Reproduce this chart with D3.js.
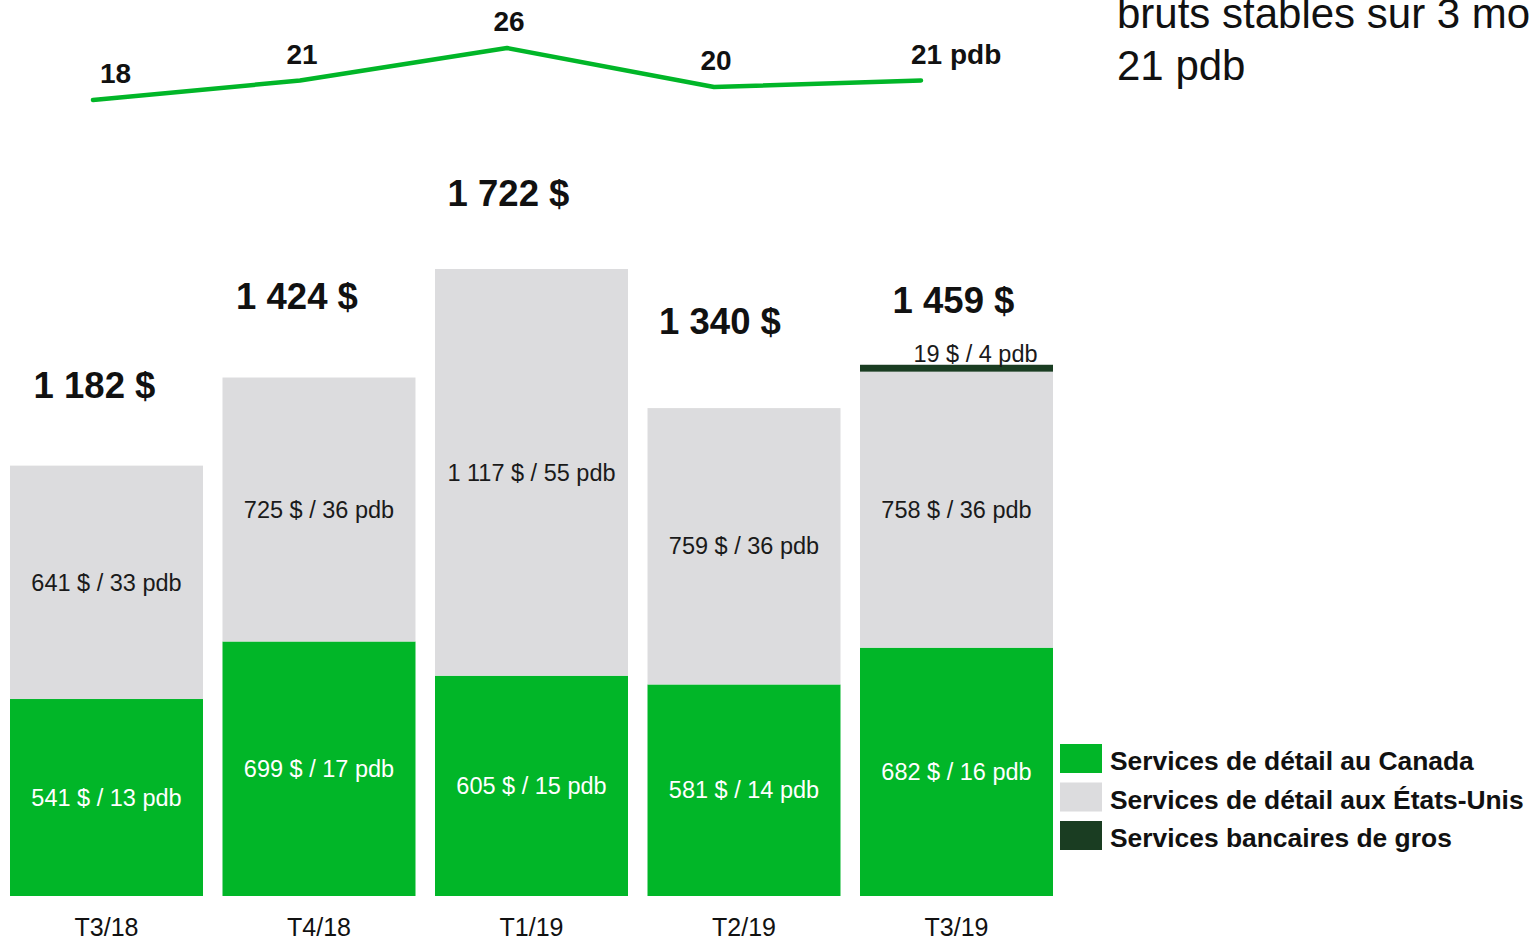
<!DOCTYPE html>
<html>
<head>
<meta charset="utf-8">
<script src="https://cdn.jsdelivr.net/npm/d3@7"></script>
<style>
  html, body { margin: 0; padding: 0; background: #ffffff; overflow: hidden; }
  svg { display: block; font-family: "Liberation Sans", Arial, sans-serif; }
</style>
</head>
<body>
<svg id="chart" width="1531" height="940"></svg>
<script>
// Quarters and segment values (M$) with their margin contribution (pdb)
const quarters = ["T3/18", "T4/18", "T1/19", "T2/19", "T3/19"];
const canada = [541, 699, 605, 581, 682];
const canadaPdb = [13, 17, 15, 14, 16];
const usa = [641, 725, 1117, 759, 758];
const usaPdb = [33, 36, 55, 36, 36];
const wholesale = [0, 0, 0, 0, 19];
const wholesalePdb = [0, 0, 0, 0, 4];
// Total margin line (pdb)
const totalPdb = [18, 21, 26, 20, 21];

const seriesNames = [
  "Services de détail au Canada",
  "Services de détail aux États-Unis",
  "Services bancaires de gros"
];
const seriesColors = ["#01b628", "#dcdcde", "#1a3d22"];

// Hand placement of the total labels relative to each bar's centre and top
const totalLabelNudge = [[-12, -68], [-22, -69], [-23, -63], [-24, -74], [-3, -52]];

const rows = quarters.map((q, i) => ({
  q, canada: canada[i], usa: usa[i], wholesale: wholesale[i],
  pdb: { canada: canadaPdb[i], usa: usaPdb[i], wholesale: wholesalePdb[i] }
}));
const totals = rows.map(r => r.canada + r.usa + r.wholesale);

const fr = d3.formatLocale({ decimal: ",", thousands: " ", grouping: [3], currency: ["", " $"] });
const fmt = fr.format(",d");

const svg = d3.select("#chart");

// Bar scales
const x = d3.scaleBand().domain(quarters).range([10, 1053]).paddingInner(0.0918).paddingOuter(0);
const y = d3.scaleLinear().domain([0, d3.max(totals)]).range([896, 269]);

const keys = ["canada", "usa", "wholesale"];
const stack = d3.stack().keys(keys)(rows);

const layers = svg.append("g").selectAll("g")
  .data(stack).join("g")
  .attr("fill", (d, i) => seriesColors[i]);

layers.selectAll("rect")
  .data(d => d.filter(s => s[1] - s[0] > 0))
  .join("rect")
  .attr("x", d => x(d.data.q))
  .attr("width", x.bandwidth())
  .attr("y", d => y(d[1]))
  .attr("height", d => y(d[0]) - y(d[1]));

// Segment labels centred in the Canada and US segments
const segLabels = svg.append("g").attr("font-size", 23.5).attr("text-anchor", "middle");
stack.slice(0, 2).forEach((layer, li) => {
  segLabels.selectAll(null)
    .data(layer).join("text")
    .attr("x", d => x(d.data.q) + x.bandwidth() / 2)
    .attr("y", d => (y(d[0]) + y(d[1])) / 2)
    .attr("dy", "0.35em")
    .attr("fill", li === 0 ? "#ffffff" : "#1a1a1a")
    .text(d => `${fmt(d[1] - d[0])} $ / ${d.data.pdb[keys[li]]} pdb`);
});

// Wholesale label sits just above its thin segment
segLabels.selectAll(null)
  .data(stack[2].filter(d => d[1] - d[0] > 0)).join("text")
  .attr("x", d => x(d.data.q) + x.bandwidth() / 2 + 19)
  .attr("y", d => y(d[1]) - 3)
  .attr("fill", "#1a1a1a")
  .text(d => `${fmt(d[1] - d[0])} $ / ${d.data.pdb.wholesale} pdb`);

// Totals above each bar
svg.append("g").attr("font-size", 36.5).attr("font-weight", "bold").attr("text-anchor", "middle")
  .selectAll("text").data(rows).join("text")
  .attr("x", (d, i) => x(d.q) + x.bandwidth() / 2 + totalLabelNudge[i][0])
  .attr("y", (d, i) => y(totals[i]) + totalLabelNudge[i][1])
  .attr("fill", "#111")
  .text((d, i) => `${fmt(totals[i])} $`);

// Category axis labels
const xAxis = d3.axisBottom(x).tickSize(0).tickPadding(0);
const axisG = svg.append("g").attr("transform", "translate(0,896)").call(xAxis);
axisG.select(".domain").remove();
axisG.selectAll("text")
  .attr("font-size", 25).attr("font-family", "Liberation Sans, Arial, sans-serif")
  .attr("fill", "#111").attr("dy", null).attr("y", 40);

// Margin line
const lx = d3.scalePoint().domain(quarters).range([93, 921]);
const ly = d3.scaleLinear().domain([18, 26]).range([100, 48]);
svg.append("path")
  .datum(totalPdb)
  .attr("fill", "none")
  .attr("stroke", "#01b628")
  .attr("stroke-width", 4.5)
  .attr("stroke-linejoin", "round")
  .attr("stroke-linecap", "round")
  .attr("d", d3.line().x((d, i) => lx(quarters[i])).y(d => ly(d)));

const lineLabels = svg.append("g").attr("font-size", 28).attr("font-weight", "bold").attr("fill", "#111");
lineLabels.selectAll("text").data(totalPdb).join("text")
  .attr("x", (d, i) => i === 0 ? lx(quarters[i]) + 7 : (i === totalPdb.length - 1 ? lx(quarters[i]) - 10 : lx(quarters[i]) + 2))
  .attr("y", d => ly(d) - 17)
  .attr("text-anchor", (d, i) => (i === 0 || i === totalPdb.length - 1) ? "start" : "middle")
  .text((d, i) => i === totalPdb.length - 1 ? `${d} pdb` : d);

// Commentary text at the top right
const note = svg.append("text").attr("font-size", 42).attr("fill", "#111").attr("x", 1117);
note.append("tspan").attr("x", 1117).attr("y", 28).text("bruts stables sur 3 mois");
note.append("tspan").attr("x", 1117).attr("y", 80).text(`${totalPdb[totalPdb.length - 1]} pdb`);

// Legend
const legend = svg.append("g").attr("transform", "translate(1060,744)");
const li = legend.selectAll("g").data(seriesNames).join("g")
  .attr("transform", (d, i) => `translate(0,${i * 38.5})`);
li.append("rect").attr("width", 42).attr("height", 29).attr("fill", (d, i) => seriesColors[i]);
li.append("text").attr("x", 50).attr("y", 26).attr("font-size", 26.4).attr("font-weight", "bold")
  .attr("fill", "#111").text(d => d);
</script>
</body>
</html>
